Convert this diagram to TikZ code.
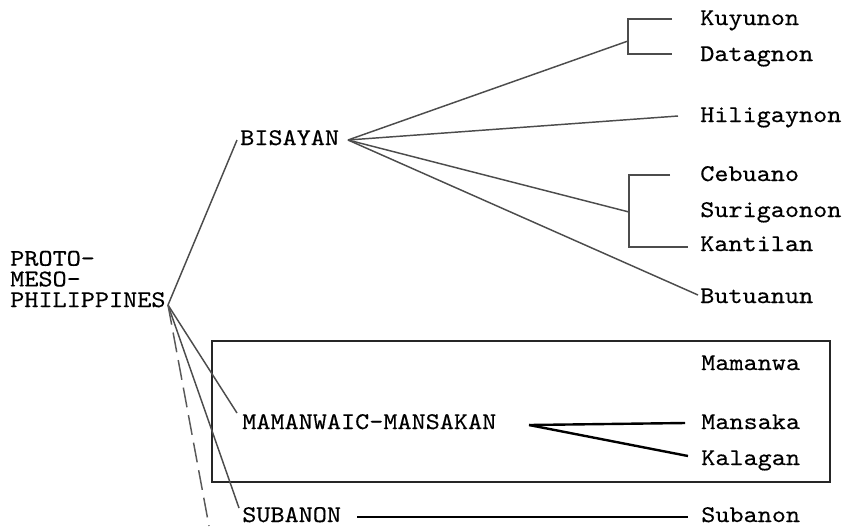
\documentclass[tikz,border=0pt]{standalone}
\usepackage{fontspec}
\newfontfamily\upfont[Extension=.otf,FakeStretch=1.12,FakeBold=0.4]{lmmono10-regular}
\begin{document}
\begin{tikzpicture}[x=0.75pt,y=-0.75pt,
  lbl/.style={inner sep=0pt,anchor=base west,font=\upfont\fontsize{18}{15.5}\selectfont},
  branch/.style={draw=black!70,line width=1.1pt},
  heavy/.style={draw=black,line width=1.8pt},
  frame/.style={draw=black!85,line width=1.3pt},
  dashbranch/.style={draw=black!65,line width=1.1pt,dash pattern=on 15pt off 6pt}]
\useasboundingbox (0,0) rectangle (845,526);
% texts
\node[lbl,align=left,anchor=north west] (root) at (10,250.5) {PROTO-\\MESO-\\PHILIPPINES};
\node[lbl] (bis) at (240,145) {BISAYAN};
\node[lbl] (kuy) at (700,25) {Kuyunon};
\node[lbl] (dat) at (700,61) {Datagnon};
\node[lbl] (hil) at (700,122) {Hiligaynon};
\node[lbl] (ceb) at (700,181) {Cebuano};
\node[lbl] (sur) at (700,217) {Surigaonon};
\node[lbl] (kan) at (700,251) {Kantilan};
\node[lbl] (but) at (700,303) {Butuanun};
\node[lbl] (mam) at (242,429) {MAMANWAIC-MANSAKAN};
\node[lbl] (sub) at (242,522) {SUBANON};
\node[lbl] (mamanwa) at (701,370) {Mamanwa};
\node[lbl] (mansaka) at (701,429) {Mansaka};
\node[lbl] (kalagan) at (701,465) {Kalagan};
\node[lbl] (subanon) at (701,522) {Subanon};
% junction points
\coordinate (r) at (168,305);
\coordinate (bisL) at (237,140);
\coordinate (bisR) at (348,140);
\coordinate (kj) at (628,41);
\coordinate (kt) at (628,19);
\coordinate (kb) at (628,54);
\coordinate (kte) at (672,19);
\coordinate (kbe) at (672,54);
\coordinate (hile) at (678,116);
\coordinate (cj) at (629,212);
\coordinate (ct) at (629,175);
\coordinate (cb) at (629,247);
\coordinate (cte) at (670,175);
\coordinate (cbe) at (688,247);
\coordinate (bute) at (698,295);
\coordinate (mamL) at (237,413);
\coordinate (subL) at (239,508);
\coordinate (dashend) at (209,526);
\coordinate (fork) at (529,425);
\coordinate (mse) at (685,423);
\coordinate (kle) at (688,456);
\coordinate (sbs) at (357,517);
\coordinate (sbe) at (688,517);
% box
\draw[frame] (212,341) rectangle (830,482);
% upper tree
\draw[branch] (r) -- (bisL);
\draw[branch] (bisR) -- (kj);
\draw[branch] (kte) -- (kt) -- (kb) -- (kbe);
\draw[branch] (bisR) -- (hile);
\draw[branch] (bisR) -- (cj);
\draw[branch] (cte) -- (ct) -- (cb) -- (cbe);
\draw[branch] (bisR) -- (bute);
% lower tree
\draw[branch] (r) -- (mamL);
\draw[branch] (r) -- (subL);
\draw[dashbranch] (r) -- (dashend);
\draw[heavy] (fork) -- (mse);
\draw[heavy] (fork) -- (kle);
\draw[heavy] (sbs) -- (sbe);
\end{tikzpicture}
\end{document}
